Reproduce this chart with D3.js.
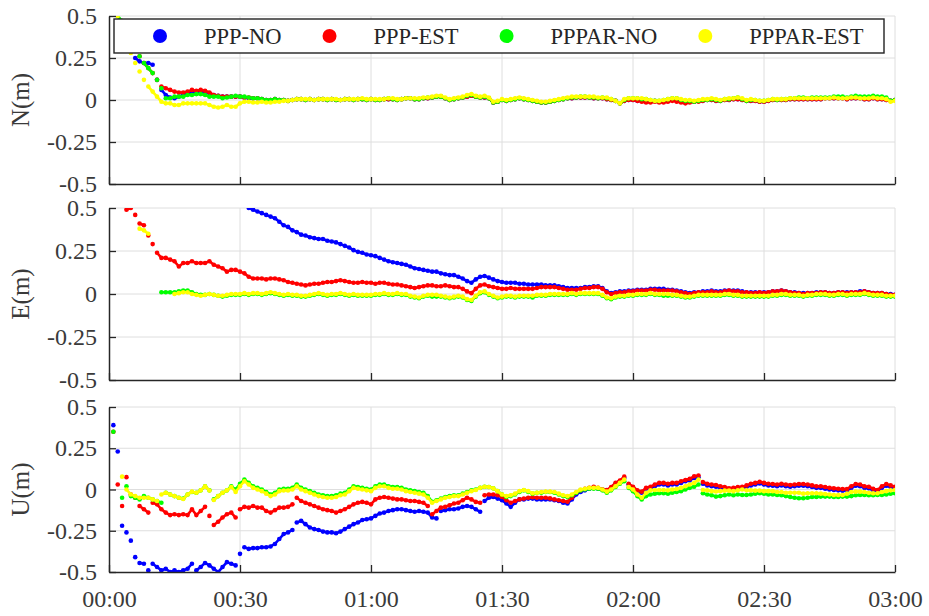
<!DOCTYPE html>
<html>
<head>
<meta charset="utf-8">
<script src="https://cdn.jsdelivr.net/npm/d3@7"></script>
<style>
  html, body { margin: 0; padding: 0; background: #ffffff; }
  svg { display: block; }
  text { font-family: "Liberation Serif", "Times New Roman", Times, serif; }
</style>
</head>
<body>
<svg id="chart" width="929" height="616"></svg>
<script>
// Epoch time axis: one solution per minute over three hours.
const timeTicks  = [0, 30, 60, 90, 120, 150, 180];
const timeLabels = ["00:00", "00:30", "01:00", "01:30", "02:00", "02:30", "03:00"];
const valueTicks  = [-0.5, -0.25, 0, 0.25, 0.5];
const valueLabels = ["-0.5", "-0.25", "0", "0.25", "0.5"];

const seriesNames  = ["PPP-NO", "PPP-EST", "PPPAR-NO", "PPPAR-EST"];
const seriesColors = ["#0000ff", "#ff0000", "#00ff00", "#ffff00"];
const panelTitles  = ["N(m)", "E(m)", "U(m)"];

// ---- North error (m), minute 0..180 ----
const nPppNo = [
  null,null,null,null,null,null,0.25,0.23,0.22,0.22,
  0.21,0.12,0.06,0.03,0.015,0.01,0.02,0.03,0.04,0.045,
  0.045,0.05,0.045,0.04,0.03,0.025,0.02,0.02,0.02,0.02,
  0.02,0.015,0.01,0.01,0.01,0.005,0,0,0.005,0,
  0,-0.005,0,0.005,0.005,0,0.005,0,0.005,0.005,
  0,0.005,0,0,0.005,0.005,0,0.005,0.005,0,
  0.005,0,0,0.005,0.005,0.005,0,0.005,0.01,0.01,
  0.005,0.005,0.01,0.01,0.015,0.02,0.02,0.01,0,0.005,
  0.01,0.015,0.02,0.025,0.02,0.015,0.015,0.01,-0.015,-0.01,
  0,-0.005,0,0.005,0.01,0.005,0,-0.005,-0.01,-0.015,
  -0.015,-0.01,-0.005,0,0.005,0.01,0.01,0.015,0.015,0.015,
  0.015,0.01,0.01,0.01,0.005,0,-0.005,-0.02,-0.005,0,
  0,-0.005,-0.005,-0.01,-0.01,-0.005,-0.01,-0.01,-0.005,0,
  -0.005,-0.01,-0.015,-0.01,-0.01,-0.005,-0.005,0,0,-0.005,
  -0.005,0,0,0.005,0.005,0,-0.005,-0.005,-0.005,-0.01,
  -0.01,-0.005,0,0,0,0,0.005,0.005,0.005,0.005,
  0.005,0.005,0.005,0.005,0.01,0.01,0.01,0.01,0.01,0.005,
  0.01,0.01,0.01,0.005,0.005,0.01,0.005,0.005,0,-0.005,
  0
];
const nPppEst = [
  null,null,null,0.47,0.40,0.35,0.30,0.26,0.22,0.19,
  0.16,0.12,0.08,0.07,0.06,0.05,0.045,0.045,0.05,0.06,
  0.055,0.06,0.055,0.045,0.03,0.025,0.02,0.02,0.02,0.02,
  0.02,0.015,0.015,0.01,0.01,0.005,0,0,0.005,0,
  0,-0.005,0,0.005,0.005,0,0.005,0,0.005,0.005,
  0,0.005,0,0,0.005,0.005,0,0.005,0.005,0,
  0.005,0,0,0.005,0.005,0.005,0,0.005,0.01,0.01,
  0.005,0.005,0.01,0.01,0.015,0.02,0.02,0.01,0,0.005,
  0.01,0.015,0.02,0.025,0.02,0.015,0.015,0.01,-0.015,-0.01,
  0,-0.005,0,0.005,0.01,0.005,0,-0.005,-0.01,-0.015,
  -0.015,-0.01,-0.005,0,0.005,0.01,0.01,0.015,0.015,0.015,
  0.015,0.01,0.01,0.01,0.005,0,-0.005,-0.02,-0.005,0,
  0,-0.005,-0.01,-0.015,-0.015,-0.01,-0.015,-0.015,-0.01,-0.005,
  -0.01,-0.015,-0.02,-0.015,-0.01,-0.01,-0.005,0,0,-0.005,
  -0.005,0,0,0.005,0.005,0,-0.005,-0.005,-0.005,-0.01,
  -0.01,-0.005,0,0,0,0,0.005,0.005,0.005,0.005,
  0.005,0.005,0.005,0.005,0.01,0.01,0.01,0.01,0.01,0.005,
  0.01,0.01,0.01,0.005,0.005,0.01,0.005,0.005,0,-0.005,
  0
];
const nPpparNo = [
  null,null,0.50,0.47,0.40,0.35,0.30,0.26,0.22,0.19,
  0.16,0.12,0.07,0.01,0.01,0.02,0.02,0.02,0.03,0.03,
  0.035,0.035,0.03,0.02,0.02,0.02,0.01,0.015,0.02,0.025,
  0.02,0.02,0.015,0.01,0.01,0.005,0,0,0.005,0,
  0,-0.005,0,0.005,0.005,0,0.005,0,0.005,0.005,
  0,0.005,0,0,0.005,0.005,0,0.005,0.005,0,
  0.005,0,0,0.005,0.01,0.005,0,0.005,0.01,0.01,
  0.005,0.005,0.01,0.015,0.015,0.02,0.02,0.01,0,0.005,
  0.01,0.015,0.025,0.03,0.02,0.015,0.02,0.01,-0.015,-0.01,
  0,-0.005,0,0.005,0.01,0.005,0,-0.005,-0.01,-0.015,
  -0.015,-0.01,-0.005,0,0.005,0.01,0.015,0.015,0.02,0.02,
  0.015,0.015,0.01,0.015,0.01,0.005,-0.005,-0.02,0,0.01,
  0.01,0.01,0.005,0.005,0,-0.005,-0.005,0,0.005,0.01,
  0.01,0,-0.005,-0.005,-0.01,-0.005,0,0,0.005,0,
  -0.005,0.005,0.005,0.01,0.015,0.005,-0.005,0,0,-0.005,
  -0.005,0,0.005,0,0.005,0.005,0.01,0.01,0.015,0.015,
  0.01,0.015,0.015,0.015,0.015,0.015,0.02,0.02,0.02,0.015,
  0.02,0.025,0.02,0.02,0.02,0.025,0.02,0.02,0.015,-0.005,
  0
];
const nPpparEst = [
  null,null,0.50,0.44,0.36,0.28,0.22,0.17,0.12,0.08,
  0.05,0.02,-0.01,-0.02,-0.02,-0.03,-0.03,-0.02,-0.02,-0.02,
  -0.02,-0.02,-0.02,-0.03,-0.04,-0.045,-0.04,-0.03,-0.04,-0.04,
  -0.02,-0.01,-0.01,-0.015,-0.015,-0.01,-0.015,-0.015,-0.01,-0.01,
  -0.005,-0.005,0,0.005,0.005,0.005,0.005,0,0.005,0.005,
  0.005,0.005,0.005,0,0.005,0.005,0.005,0.005,0.01,0.005,
  0.005,0.005,0.005,0.005,0.01,0.01,0.005,0.005,0.01,0.01,
  0.01,0.01,0.015,0.015,0.02,0.025,0.025,0.015,0.005,0.01,
  0.015,0.02,0.03,0.035,0.025,0.02,0.025,0.015,-0.01,-0.005,
  0.005,0,0.005,0.01,0.015,0.01,0.005,0,-0.005,-0.01,
  -0.01,-0.005,0,0.005,0.01,0.015,0.02,0.02,0.02,0.02,
  0.02,0.02,0.015,0.015,0.015,0.005,-0.005,-0.02,0.005,0.01,
  0.01,0.01,0.01,0.005,0,-0.005,-0.005,0,0.005,0.01,
  0.01,0.005,0,0,-0.005,0,0.005,0.005,0.01,0.005,
  0,0.005,0.01,0.01,0.015,0.01,0,0.005,0,-0.005,
  -0.005,0,0.005,0.005,0.005,0.005,0.01,0.01,0.01,0.01,
  0.01,0.01,0.01,0.01,0.01,0.01,0.015,0.01,0.01,0.01,
  0.015,0.015,0.01,0.01,0.01,0.015,0.01,0.01,0.005,-0.01,
  -0.005
];

// ---- East error (m), minute 0..180 ----
const ePppNo = [
  null,null,null,null,null,null,null,null,null,null,
  null,null,null,null,null,null,null,null,null,null,
  null,null,null,null,null,null,null,null,null,null,
  null,null,0.50,0.49,0.48,0.47,0.46,0.45,0.44,0.42,
  0.40,0.39,0.37,0.36,0.345,0.34,0.33,0.325,0.32,0.32,
  0.31,0.305,0.30,0.29,0.28,0.27,0.255,0.245,0.24,0.23,
  0.225,0.22,0.21,0.20,0.19,0.185,0.18,0.175,0.17,0.16,
  0.15,0.145,0.14,0.135,0.13,0.13,0.12,0.115,0.11,0.11,
  0.10,0.09,0.075,0.065,0.085,0.10,0.105,0.095,0.085,0.075,
  0.07,0.065,0.065,0.065,0.06,0.06,0.055,0.055,0.055,0.055,
  0.05,0.05,0.05,0.045,0.04,0.035,0.035,0.035,0.035,0.04,
  0.04,0.045,0.045,0.035,0.015,0.005,0.01,0.015,0.015,0.02,
  0.02,0.025,0.025,0.025,0.03,0.03,0.03,0.03,0.025,0.025,
  0.02,0.015,0.01,0.005,0.01,0.01,0.015,0.015,0.02,0.015,
  0.015,0.02,0.02,0.02,0.02,0.015,0.01,0.01,0.01,0.01,
  0.01,0.01,0.015,0.015,0.02,0.015,0.01,0.01,0.005,0.005,
  0.005,0.005,0.01,0.01,0.01,0.005,0.005,0.01,0.01,0.01,
  0.01,0.01,0.015,0.015,0.01,0.005,0.005,0.005,0,0,
  -0.005
];
const ePppEst = [
  null,null,null,null,0.49,0.50,0.46,0.41,0.40,0.34,
  0.29,0.24,0.21,0.21,0.20,0.19,0.16,0.18,0.18,0.19,
  0.18,0.18,0.18,0.19,0.17,0.16,0.15,0.13,0.14,0.14,
  0.13,0.12,0.10,0.09,0.09,0.09,0.085,0.09,0.09,0.085,
  0.08,0.07,0.065,0.06,0.055,0.05,0.055,0.06,0.06,0.065,
  0.07,0.07,0.075,0.08,0.075,0.07,0.065,0.065,0.07,0.065,
  0.065,0.06,0.065,0.065,0.06,0.055,0.055,0.05,0.045,0.04,
  0.035,0.04,0.045,0.05,0.05,0.045,0.045,0.05,0.045,0.04,
  0.04,0.03,0.015,0.005,0.03,0.05,0.055,0.045,0.04,0.035,
  0.03,0.03,0.035,0.03,0.03,0.03,0.03,0.03,0.035,0.04,
  0.04,0.04,0.04,0.035,0.03,0.025,0.025,0.025,0.03,0.035,
  0.035,0.04,0.04,0.03,0.01,0,0.005,0.01,0.01,0.015,
  0.015,0.02,0.02,0.02,0.025,0.025,0.02,0.02,0.02,0.02,
  0.015,0.01,0.005,0,0.005,0.01,0.01,0.01,0.015,0.01,
  0.01,0.015,0.02,0.015,0.015,0.01,0.01,0.005,0.005,0.01,
  0.005,0.01,0.015,0.015,0.02,0.015,0.01,0.005,0.005,0,
  0.005,0.005,0.005,0.01,0.01,0.005,0.005,0.01,0.01,0.005,
  0.01,0.01,0.01,0.015,0.01,0.005,0.005,0.005,0,-0.005,
  -0.005
];
const ePpparNo = [
  null,null,null,null,null,null,null,null,null,null,
  null,null,0.01,0.01,0.01,0.01,0.015,0.02,0.02,0.01,
  0,-0.005,-0.005,0,-0.005,-0.01,-0.015,-0.01,-0.005,-0.005,
  -0.005,0,-0.005,0,0,-0.005,0,0.005,0,-0.005,
  -0.01,-0.005,-0.01,-0.01,-0.015,-0.015,-0.01,-0.005,0,-0.005,
  -0.01,-0.005,-0.005,0,-0.005,-0.01,-0.005,-0.01,-0.01,-0.01,
  -0.01,-0.005,-0.005,0,-0.005,-0.005,0,-0.005,-0.005,-0.015,
  -0.02,-0.025,-0.015,-0.01,-0.015,-0.015,-0.015,-0.02,-0.025,-0.02,
  -0.015,-0.02,-0.035,-0.04,-0.015,0.005,0.01,-0.005,-0.015,-0.025,
  -0.02,-0.015,-0.015,-0.02,-0.015,-0.015,-0.015,-0.02,-0.01,-0.01,
  -0.01,-0.005,-0.005,-0.005,-0.005,-0.005,0,-0.005,0,0,
  0,0,0,-0.01,-0.025,-0.03,-0.02,-0.015,-0.015,-0.01,
  -0.01,-0.005,-0.005,-0.005,0,-0.005,-0.005,-0.01,-0.01,-0.01,
  -0.01,-0.015,-0.02,-0.02,-0.015,-0.01,-0.01,-0.01,-0.01,-0.01,
  -0.01,-0.005,-0.005,-0.01,-0.01,-0.015,-0.015,-0.015,-0.015,-0.015,
  -0.015,-0.015,-0.01,-0.01,-0.005,-0.005,-0.01,-0.01,-0.01,-0.015,
  -0.01,-0.01,-0.005,-0.005,-0.005,-0.01,-0.01,-0.005,-0.005,-0.01,
  -0.005,-0.005,-0.005,0,-0.005,-0.01,-0.01,-0.01,-0.015,-0.015,
  -0.015
];
const ePpparEst = [
  null,null,null,null,null,null,null,0.38,0.37,0.35,
  null,null,null,null,null,0,0.005,0.01,0.01,0,
  -0.005,-0.01,-0.005,0,-0.005,-0.01,-0.01,-0.005,0,0,
  0,0.005,0,0.005,0.005,0,0.005,0.01,0.005,0,
  -0.005,0,-0.005,-0.005,-0.01,-0.01,-0.005,0,0.005,0,
  -0.005,0,0,0.005,0,-0.005,0,-0.005,-0.005,-0.005,
  -0.005,0,0,0.005,0,0,0.005,0,0,-0.01,
  -0.015,-0.02,-0.01,-0.005,-0.005,-0.005,-0.01,-0.015,-0.02,-0.015,
  -0.01,-0.015,-0.03,-0.035,-0.01,0.01,0.015,0,-0.01,-0.02,
  -0.015,-0.01,-0.01,-0.015,-0.01,-0.01,-0.01,-0.01,-0.005,-0.005,
  -0.005,0,0,0,0,0,0.005,0,0.005,0.005,
  0.005,0.005,0.005,-0.005,-0.02,-0.025,-0.015,-0.01,-0.01,-0.005,
  -0.005,0,0,0,0.005,0,0,0,0,-0.005,
  -0.005,-0.01,-0.015,-0.015,-0.01,-0.005,-0.005,-0.005,-0.005,-0.005,
  -0.005,0,0,-0.005,-0.005,-0.01,-0.01,-0.01,-0.01,-0.01,
  -0.01,-0.01,-0.005,-0.005,0,0,-0.005,-0.005,-0.005,-0.01,
  -0.005,-0.005,0,0,0,-0.005,-0.005,0,0,-0.005,
  0,0,0,0.005,0,-0.005,-0.005,-0.005,-0.01,-0.01,
  -0.01
];

// ---- Up error (m), minute 0..180 ----
const uPppNo = [
  null,0.39,0.23,-0.22,-0.26,-0.31,-0.41,-0.445,-0.45,-0.49,
  -0.45,-0.47,-0.49,-0.48,-0.5,-0.49,-0.5,-0.49,-0.48,-0.45,
  -0.49,-0.47,-0.445,-0.46,-0.48,-0.5,-0.47,-0.44,-0.45,-0.46,
  -0.39,-0.35,-0.36,-0.355,-0.355,-0.35,-0.35,-0.345,-0.33,-0.3,
  -0.27,-0.26,-0.245,-0.2,-0.19,-0.21,-0.23,-0.24,-0.245,-0.255,
  -0.26,-0.26,-0.265,-0.255,-0.24,-0.225,-0.21,-0.2,-0.185,-0.18,
  -0.175,-0.16,-0.145,-0.14,-0.13,-0.125,-0.12,-0.12,-0.125,-0.13,
  -0.135,-0.13,-0.135,-0.14,-0.17,-0.175,-0.13,-0.125,-0.12,-0.12,
  -0.115,-0.105,-0.1,-0.105,-0.12,-0.135,-0.07,-0.05,-0.045,-0.055,
  -0.065,-0.085,-0.105,-0.08,-0.06,-0.06,-0.055,-0.055,-0.06,-0.06,
  -0.06,-0.06,-0.065,-0.07,-0.08,-0.085,-0.06,-0.03,-0.015,-0.005,
  0.005,0.01,0.005,0,-0.005,0.01,0.035,0.05,0.07,0.03,
  0.01,-0.015,-0.02,0.005,0.01,0.02,0.03,0.03,0.025,0.03,
  0.03,0.04,0.05,0.055,0.07,0.075,0.035,0.025,0.02,0.017,
  0.01,0.005,0,0.003,0.005,0.007,0.015,0.025,0.03,0.037,
  0.03,0.025,0.023,0.02,0.025,0.02,0.017,0.02,0.023,0.023,
  0.02,0.015,0.01,0.01,0.005,0,-0.003,-0.005,-0.007,-0.007,
  0.01,0.023,0.02,0.01,0.007,-0.005,-0.01,0.01,0.023,0.015,
  0.007
];
const uPppEst = [
  null,0.35,0.03,-0.1,0.075,-0.03,-0.05,-0.1,-0.12,-0.14,
  -0.08,-0.09,-0.12,-0.14,-0.155,-0.15,-0.155,-0.15,-0.155,-0.12,
  -0.155,-0.13,-0.105,-0.16,-0.215,-0.195,-0.17,-0.15,-0.14,-0.17,
  -0.12,-0.105,-0.11,-0.1,-0.11,-0.11,-0.13,-0.14,-0.125,-0.11,
  -0.11,-0.105,-0.09,-0.05,-0.07,-0.08,-0.09,-0.1,-0.11,-0.12,
  -0.125,-0.13,-0.14,-0.13,-0.12,-0.105,-0.09,-0.08,-0.075,-0.08,
  -0.09,-0.06,-0.05,-0.045,-0.05,-0.055,-0.06,-0.06,-0.065,-0.07,
  -0.07,-0.075,-0.08,-0.1,-0.15,-0.13,-0.11,-0.105,-0.095,-0.085,
  -0.08,-0.065,-0.05,-0.06,-0.075,-0.08,-0.035,-0.03,-0.03,-0.035,
  -0.045,-0.065,-0.08,-0.07,-0.06,-0.055,-0.05,-0.047,-0.05,-0.05,
  -0.05,-0.054,-0.06,-0.065,-0.07,-0.074,-0.05,-0.02,-0.005,0.005,
  0.01,0.017,0.01,0,-0.003,0.015,0.04,0.055,0.078,0.035,
  0.017,-0.005,-0.013,0.01,0.017,0.03,0.04,0.04,0.035,0.04,
  0.04,0.05,0.058,0.065,0.08,0.085,0.045,0.035,0.03,0.027,
  0.02,0.015,0.007,0.01,0.015,0.017,0.025,0.035,0.04,0.047,
  0.04,0.035,0.033,0.03,0.035,0.03,0.027,0.03,0.033,0.033,
  0.03,0.025,0.02,0.02,0.015,0.01,0.007,0.005,0.003,0.003,
  0.02,0.033,0.03,0.02,0.017,0.005,-0.003,0.02,0.033,0.025,
  0.017
];
const uPpparNo = [
  null,0.35,null,-0.05,0.02,-0.04,-0.05,-0.06,-0.04,-0.05,
  -0.06,-0.07,-0.08,-0.02,-0.03,-0.04,-0.05,-0.055,-0.03,-0.015,
  -0.02,-0.005,0.02,-0.005,-0.06,-0.04,-0.02,-0.005,0.02,0,
  0.035,0.06,0.04,0.02,0.01,0,-0.015,-0.03,-0.02,0,
  0.005,0.005,0.01,0.03,0.01,0,-0.01,-0.02,-0.03,-0.035,
  -0.04,-0.04,-0.035,-0.025,-0.02,0,0.02,0.015,0.01,0.005,
  0,0.02,0.03,0.03,0.02,0.015,0.015,0.01,0,-0.005,
  -0.01,-0.015,-0.02,-0.04,-0.075,-0.065,-0.055,-0.045,-0.04,-0.035,
  -0.035,-0.025,-0.015,-0.005,0,0.01,0.017,0.015,0.007,-0.01,
  -0.03,-0.045,-0.04,-0.03,-0.015,-0.005,-0.015,-0.025,-0.02,-0.02,
  -0.015,-0.015,-0.02,-0.03,-0.04,-0.045,-0.035,-0.02,-0.005,0,
  0.005,0.005,0.005,-0.005,-0.02,-0.005,0.015,0.035,0.05,0.01,
  -0.01,-0.04,-0.06,-0.04,-0.03,-0.025,-0.023,-0.023,-0.025,-0.02,
  -0.015,-0.01,0,0.01,0.017,0.03,-0.023,-0.03,-0.035,-0.043,
  -0.04,-0.035,-0.03,-0.035,-0.03,-0.033,-0.033,-0.03,-0.025,-0.023,
  -0.025,-0.03,-0.03,-0.033,-0.035,-0.04,-0.045,-0.05,-0.053,-0.053,
  -0.05,-0.045,-0.045,-0.043,-0.043,-0.043,-0.045,-0.045,-0.043,-0.043,
  -0.04,-0.035,-0.033,-0.033,-0.035,-0.035,-0.033,-0.033,-0.03,-0.025,
  -0.023
];
const uPpparEst = [
  null,null,null,0.078,0,-0.03,-0.04,-0.05,-0.05,-0.05,
  -0.06,-0.07,-0.03,-0.02,-0.03,-0.04,-0.05,-0.058,-0.03,-0.013,
  -0.02,-0.005,0.02,-0.006,-0.064,-0.04,-0.02,-0.005,0.015,-0.015,
  0.02,0.05,0.03,0.01,0,-0.01,-0.025,-0.04,-0.03,-0.01,
  -0.006,-0.006,0,0.02,0,-0.01,-0.02,-0.03,-0.04,-0.045,
  -0.05,-0.05,-0.045,-0.035,-0.03,-0.01,0.01,0.005,0,-0.005,
  -0.01,0.01,0.02,0.02,0.01,0.005,0.005,0,-0.01,-0.015,
  -0.02,-0.025,-0.03,-0.05,-0.08,-0.07,-0.06,-0.05,-0.045,-0.04,
  -0.04,-0.03,-0.02,-0.01,-0.003,0.01,0.017,0.015,0.007,-0.01,
  -0.03,-0.04,-0.035,-0.025,-0.01,-0.003,-0.01,-0.023,-0.02,-0.015,
  -0.013,-0.013,-0.015,-0.025,-0.035,-0.04,-0.03,-0.015,0,0.005,
  0.01,0.01,0.01,0,-0.013,0,0.02,0.04,0.06,0.015,
  0,-0.03,-0.05,-0.02,-0.005,-0.003,-0.003,-0.003,-0.005,0,
  0.003,0.01,0.02,0.03,0.04,0.06,-0.003,-0.005,-0.01,-0.012,
  -0.01,-0.007,-0.007,-0.01,-0.005,0,-0.005,-0.005,-0.007,-0.007,
  -0.01,-0.01,-0.01,-0.015,-0.015,-0.02,-0.02,-0.02,-0.02,-0.025,
  -0.023,-0.023,-0.023,-0.025,-0.028,-0.03,-0.033,-0.033,-0.033,-0.025,
  -0.015,-0.013,-0.013,-0.015,-0.02,-0.023,-0.023,-0.015,-0.01,-0.005,
  -0.003
];

const panels = [
  { title: panelTitles[0], series: [nPppNo, nPppEst, nPpparNo, nPpparEst] },
  { title: panelTitles[1], series: [ePppNo, ePppEst, ePpparNo, ePpparEst] },
  { title: panelTitles[2], series: [uPppNo, uPppEst, uPpparNo, uPpparEst] }
];

// ---- layout ----
const svg = d3.select("#chart");
const plotLeft = 109, plotRight = 895;
const panelFrames = [
  { top: 16,  bottom: 184 },
  { top: 208, bottom: 380 },
  { top: 407, bottom: 572 }
];
const axisColor = "#262626";
const gridColor = "#dedede";
const textColor = "#3a3a3a";
const tickFont = 24;
const maxStep = 0.035;   // epochs further apart than this stay as separate dots

const x = d3.scaleLinear().domain([0, 180]).range([plotLeft, plotRight]);

// split a series into runs of consecutive epochs with small jumps
function runsOf(values) {
  const runs = [];
  let cur = [];
  values.forEach((v, t) => {
    if (v === null) { if (cur.length) runs.push(cur); cur = []; return; }
    if (cur.length && Math.abs(v - cur[cur.length - 1].v) > maxStep) { runs.push(cur); cur = []; }
    cur.push({ t, v });
  });
  if (cur.length) runs.push(cur);
  return runs.filter(r => r.length > 1);
}

panels.forEach((panel, pi) => {
  const frame = panelFrames[pi];
  const y = d3.scaleLinear().domain([-0.5, 0.5]).range([frame.bottom, frame.top]);
  const g = svg.append("g").attr("class", "panel");

  // grid
  g.append("g").selectAll("line").data(timeTicks.slice(1)).join("line")
    .attr("x1", d => x(d)).attr("x2", d => x(d))
    .attr("y1", frame.top).attr("y2", frame.bottom)
    .attr("stroke", gridColor).attr("stroke-width", 1);
  g.append("g").selectAll("line").data(valueTicks.slice(1)).join("line")
    .attr("x1", plotLeft).attr("x2", plotRight)
    .attr("y1", d => y(d)).attr("y2", d => y(d))
    .attr("stroke", gridColor).attr("stroke-width", 1);

  // clip to plot area
  const clipId = "clip-" + pi;
  svg.append("clipPath").attr("id", clipId).append("rect")
    .attr("x", plotLeft).attr("y", frame.top)
    .attr("width", plotRight - plotLeft).attr("height", frame.bottom - frame.top);

  const dataG = g.append("g").attr("clip-path", `url(#${clipId})`);
  const trace = d3.line().x(d => x(d.t)).y(d => y(d.v));
  panel.series.forEach((values, si) => {
    const sg = dataG.append("g");
    sg.selectAll("path").data(runsOf(values)).join("path")
      .attr("d", trace)
      .attr("fill", "none")
      .attr("stroke", seriesColors[si])
      .attr("stroke-width", 2.6)
      .attr("stroke-linejoin", "round")
      .attr("stroke-linecap", "round");
    const pts = values.map((v, t) => ({ t, v })).filter(d => d.v !== null);
    sg.selectAll("circle").data(pts).join("circle")
      .attr("cx", d => x(d.t))
      .attr("cy", d => y(d.v))
      .attr("r", 2.3)
      .attr("fill", seriesColors[si]);
  });

  // axes (ticks drawn inward)
  const isLast = pi === panels.length - 1;
  const xAxis = d3.axisBottom(x).tickValues(timeTicks)
    .tickFormat((d, i) => isLast ? timeLabels[i] : "")
    .tickSizeInner(-7).tickSizeOuter(0).tickPadding(18);
  const yAxis = d3.axisLeft(y).tickValues(valueTicks)
    .tickFormat((d, i) => valueLabels[i])
    .tickSizeInner(-7).tickSizeOuter(0).tickPadding(12);

  const gx = g.append("g").attr("transform", `translate(0,${frame.bottom})`).call(xAxis);
  const gy = g.append("g").attr("transform", `translate(${plotLeft},0)`).call(yAxis);
  [gx, gy].forEach(a => {
    a.select(".domain").attr("stroke", axisColor).attr("stroke-width", 1.5);
    a.selectAll(".tick line").attr("stroke", axisColor).attr("stroke-width", 1.3);
    a.selectAll(".tick text").attr("fill", textColor)
      .style("font-size", tickFont + "px")
      .style("font-family", '"Liberation Serif", "Times New Roman", serif');
  });

  // panel title
  g.append("text")
    .attr("transform", `translate(29,${(frame.top + frame.bottom) / 2}) rotate(-90)`)
    .attr("text-anchor", "middle")
    .attr("fill", textColor)
    .style("font-size", "25px")
    .text(panel.title);
});

// ---- legend ----
const legend = svg.append("g").attr("class", "legend");
legend.append("rect")
  .attr("x", 114).attr("y", 19).attr("width", 770).attr("height", 34)
  .attr("fill", "#ffffff").attr("stroke", "#222222").attr("stroke-width", 1.4);
let cursor = 160;
seriesNames.forEach((name, i) => {
  legend.append("circle").attr("cx", cursor).attr("cy", 36).attr("r", 7)
    .attr("fill", seriesColors[i]);
  const t = legend.append("text").attr("x", cursor + 44).attr("y", 44)
    .attr("fill", "#262626").style("font-size", "22.5px").text(name);
  cursor = cursor + 44 + t.node().getComputedTextLength() + 48;
});
</script>
</body>
</html>
